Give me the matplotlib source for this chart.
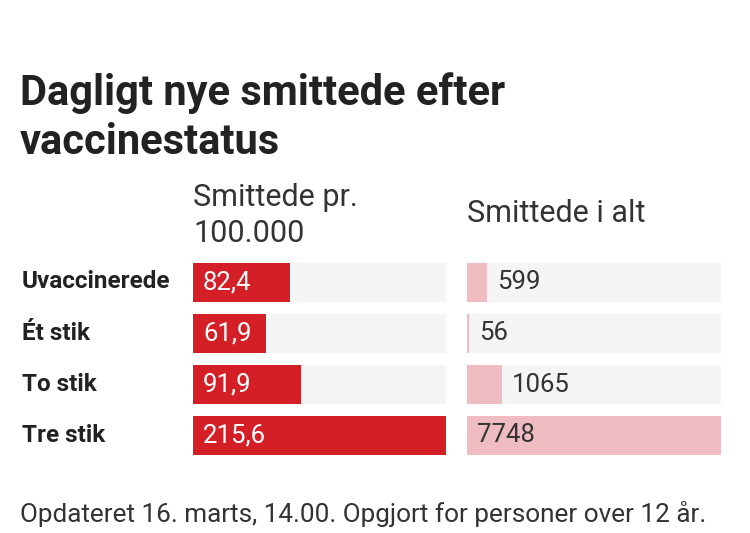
import matplotlib.pyplot as plt

categories = ["Uvaccinerede", "Ét stik", "To stik", "Tre stik"]
per_100k = [82.4, 61.9, 91.9, 215.6]
per_100k_labels = ["82,4", "61,9", "91,9", "215,6"]
total = [599, 56, 1065, 7748]

W, H = 750, 533
fig = plt.figure(figsize=(W / 100, H / 100), dpi=100)
fig.patch.set_facecolor("white")
plt.rcParams["font.family"] = ["Roboto", "DejaVu Sans"]

def px(x, y):
    return x / W, 1 - y / H

fig.text(*px(20, 93), "Dagligt nye smittede efter", fontsize=30, fontweight="bold",
         color="#222222", va="center")
fig.text(*px(20, 143), "vaccinestatus", fontsize=30, fontweight="bold",
         color="#222222", va="center")
fig.text(*px(193, 197), "Smittede pr.", fontsize=22, color="#333333", va="center")
fig.text(*px(193, 234), "100.000", fontsize=22, color="#333333", va="center")
fig.text(*px(467, 214), "Smittede i alt", fontsize=22, color="#333333", va="center")
fig.text(*px(20, 514), "Opdateret 16. marts, 14.00. Opgjort for personer over 12 år.",
         fontsize=18.8, color="#333333", va="center")

top, bottom = 257, 461
rows = range(len(categories))
for i, c in enumerate(categories):
    fig.text(*px(22, 282 + i * 51.3), c, fontsize=17.5, fontweight="bold",
             color="#222222", va="center")

def panel(x0, x1, vals, labels, color, txtcol_inside, outside):
    ax = fig.add_axes([x0 / W, 1 - bottom / H, (x1 - x0) / W, (bottom - top) / H])
    vmax = max(vals)
    ax.barh(list(rows), [vmax] * 4, height=0.75, color="#f5f5f5")
    ax.barh(list(rows), vals, height=0.75, color=color)
    ax.set_xlim(0, vmax)
    ax.set_ylim(3.5, -0.5)
    ax.axis("off")
    off = vmax * 10 / (x1 - x0)
    for i, (v, lab) in enumerate(zip(vals, labels)):
        if outside and v < vmax * 0.5:
            ax.text(v + off, i, lab, fontsize=18.5, color="#333333", va="center")
        else:
            ax.text(off, i, lab, fontsize=18.5, color=txtcol_inside, va="center")

panel(193, 446, per_100k, per_100k_labels, "#d41f27", "white", False)
panel(467, 721, total, [str(t) for t in total], "#efbcc1", "#333333", True)

fig.savefig("out.png", dpi=100)
